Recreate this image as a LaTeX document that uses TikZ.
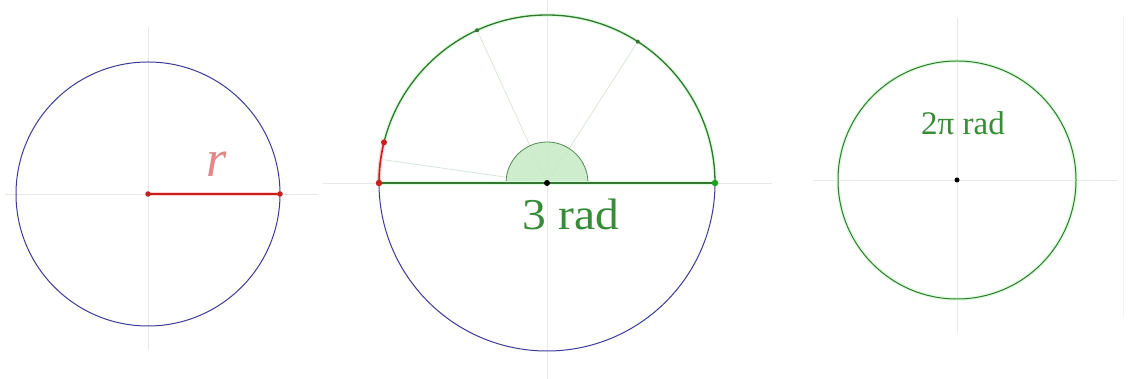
\documentclass[tikz,border=0pt]{standalone}
\usepackage{fontspec}
\setmainfont{Liberation Serif}
\begin{document}
\begin{tikzpicture}[x=1pt,y=1pt,
  axisline/.style={draw=black!9,line width=0.8pt},
  faint/.style={draw=green!35!black!15,line width=0.8pt},
  bluecirc/.style={draw=bluec,line width=1pt},
  greencirc/.style={draw=greenc,line width=1pt},
  halo/.style={draw=green!14,line width=3.5pt},
  redhalo/.style={draw=red!18,line width=4pt},
  redseg/.style={draw=redc,line width=1.6pt},
  gdot/.style={circle,fill=greenc,inner sep=0pt,minimum size=4pt},
  gdotbig/.style={circle,fill=greenc!70!green,inner sep=0pt,minimum size=6.5pt},
  rdot/.style={circle,fill=redc,inner sep=0pt,minimum size=6.5pt},
  kdot/.style={circle,fill=black,inner sep=0pt,minimum size=6pt},
  lbl/.style={inner sep=0pt,anchor=base}]
\definecolor{bluec}{RGB}{60,60,150}
\definecolor{greenc}{RGB}{50,118,50}
\definecolor{redc}{RGB}{200,30,30}
\definecolor{textg}{RGB}{55,140,55}
\definecolor{rlab}{RGB}{228,135,135}
\definecolor{markfill}{RGB}{200,236,200}
\useasboundingbox (0,0) rectangle (1136,379);
\fill[white] (0,0) rectangle (1136,379);
% faint right border
\draw[draw=black!5,line width=1pt] (1123,62) -- (1123,364);
% ---------- circle 1 ----------
\coordinate (c1) at (148,185);
\coordinate (c1r) at (280,185);
\draw[axisline] (5,185) -- (318,185);
\draw[axisline] (148,29) -- (148,352);
\draw[bluecirc] (c1) circle[radius=132];
\draw[redhalo] (c1) -- (c1r);
\draw[redseg] (c1) -- (c1r);
\node[rdot,minimum size=5.5pt] (d1a) at (c1) {};
\node[rdot,minimum size=5.5pt] (d1b) at (c1r) {};
\node[lbl,text=rlab,font=\fontsize{52}{52}\selectfont\itshape] (rl) at (217,202) {r};
% ---------- circle 2 ----------
\coordinate (c2) at (547,196);
\draw[axisline] (323,196) -- (772,196);
\draw[axisline] (547,0) -- (547,379);
\path (c2) ++(0:168) coordinate (q0);
\path (c2) ++(57.3:168) coordinate (q1);
\path (c2) ++(114.6:168) coordinate (q2);
\path (c2) ++(171.9:168) coordinate (q3);
\path (c2) ++(166:168) coordinate (qr);
\path (c2) ++(180:168) coordinate (q4);
% faint radii
\draw[faint] (c2) -- (q1);
\draw[faint] (c2) -- (q2);
\draw[faint] (c2) -- (q3);
% angle marker
\fill[markfill,opacity=0.9] (c2) ++(41,0) arc[start angle=0,end angle=180,radius=41] -- cycle;
\draw[draw=greenc!85,line width=0.8pt] (c2) ++(41,0) arc[start angle=0,end angle=180,radius=41];
% lower half blue
\draw[bluecirc] (q4) arc[start angle=180,end angle=360,radius=168];
% upper half green
\draw[halo] (q0) arc[start angle=0,end angle=180,radius=168];
\draw[greencirc,line width=1.3pt] (q0) arc[start angle=0,end angle=180,radius=168];
% diameter
\draw[halo] (q4) -- (q0);
\draw[greencirc,line width=1.2pt] (q4) -- (q0);
% red segment
\draw[redhalo] (qr) arc[start angle=166,end angle=180,radius=168];
\draw[redseg] (qr) arc[start angle=166,end angle=180,radius=168];
\node[gdot] (e1) at (q1) {};
\node[gdot] (e2) at (q2) {};
\node[gdotbig] (e0) at (q0) {};
\node[rdot,minimum size=6pt] (er) at (qr) {};
\node[rdot] (e4) at (q4) {};
\node[kdot] (e5) at (c2) {};
\node[lbl,text=textg,font=\fontsize{44}{44}\selectfont,xscale=1.08] (t2) at (571,149) {3 rad};
% ---------- circle 3 ----------
\coordinate (c3) at (957,199);
\draw[axisline] (813,199) -- (1117,199);
\draw[axisline] (957,46) -- (957,361);
\draw[halo] (c3) circle[radius=119];
\draw[greencirc] (c3) circle[radius=119];
\node[kdot,minimum size=5pt] (e6) at (c3) {};
\node[lbl,text=textg,font=\fontsize{33}{33}\selectfont] (t3) at (963,244) {2π rad};
\end{tikzpicture}
\end{document}
